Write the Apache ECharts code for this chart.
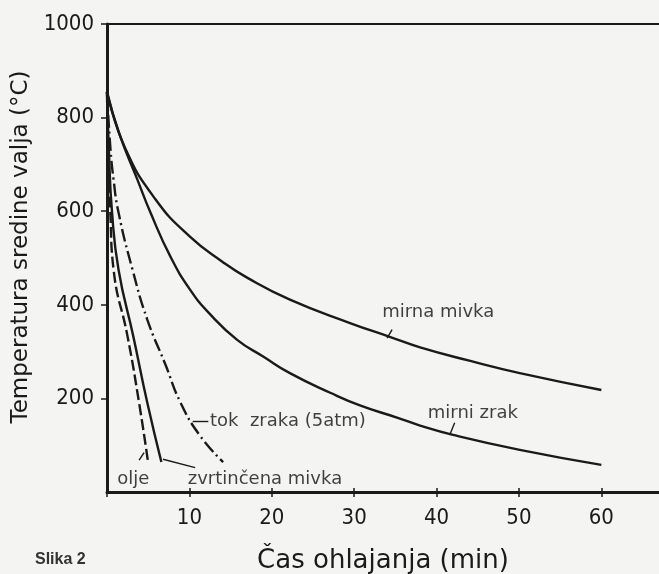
<!DOCTYPE html>
<html><head><meta charset="utf-8">
<script src="https://cdn.jsdelivr.net/npm/echarts@6/dist/echarts.min.js"></script>
<style>html,body{margin:0;padding:0;background:#f4f4f2;}#c{width:659px;height:574px;}</style>
</head><body><div id="c"></div>
<script>
// Cooling curves: [time (min), temperature (°C)]
const oljeData = [[0,855],[0.15,720],[0.4,600],[0.8,475],[2.5,332],[3.9,190],[5.0,62]];
const zvrtincenaData = [[0,855],[0.25,720],[0.6,600],[1.4,475],[3.2,332],[4.9,190],[6.6,64]];
const tokZrakaData = [[0,855],[0.4,738],[0.8,667],[1.4,597],[3.1,475],[4.9,368],[7.1,272],[8.9,192],[11.3,120],[14.1,64]];
const mirniZrakData = [[0,855],[1.5,765],[3.7,667],[5.3,596],[7.7,503],[10.1,432],[12.5,380],[15.8,325],[19,289],[22.2,254],[27.1,212],[30.7,185],[35.2,159],[38,142],[42,122],[50.1,90],[60,58]];
const mirnaMivkaData = [[0,855],[2.2,735],[5.9,625],[10.1,545],[14,492],[17,458],[22.2,411],[29.5,361],[34.4,331],[38,309],[44.1,280],[50.1,254],[60,218]];
const xTickLabels = [10,20,30,40,50,60];
const yTickLabels = [200,400,600,800,1000];

const INK = '#1a1a1a';
const condensed = '"DejaVu Sans Condensed","DejaVu Sans",sans-serif';
const sans = '"DejaVu Sans",sans-serif';

const chart = echarts.init(document.getElementById('c'), null, {renderer:'canvas'});

function curve(name, data, type){
  return {
    name, type:'line', data, showSymbol:false, symbol:'none',
    smooth:0.5, silent:true, z:3,
    lineStyle:{color:INK, width:2.4, type:type||'solid'}
  };
}

const labelItems = [
  {name:'mirna mivka', value:[40.2,383], align:'center'},
  {name:'mirni zrak', value:[44.4,169], align:'center'},
  {name:'tok  zraka (5atm)', value:[12.5,152], align:'left'},
  {name:'olje', value:[3.2,28], align:'center'},
  {name:'zvrtinčena mivka', value:[9.8,28], align:'left'}
];
const pointers = [
  [[34.6,347],[34.0,329]],
  [[42.2,148],[41.6,122]],
  [[10.4,151],[12.3,151]],
  [[3.9,68],[4.5,84]],
  [[6.8,70],[10.7,52]]
];
const xTickPos = [0].concat(xTickLabels);

chart.setOption({
  backgroundColor:'#f4f4f2',
  animation:false,
  title:{text:'Slika 2', left:30, top:547, textStyle:{fontFamily:'"Liberation Sans",Arial,sans-serif', fontWeight:'bold', fontSize:16, color:'#333'}},
  grid:{left:107, right:0, top:24, bottom:82, outerBoundsMode:'none', containLabel:false},
  xAxis:[
    {type:'value', min:0, max:67, interval:10, position:'bottom',
     name:'Čas ohlajanja (min)', nameLocation:'middle', nameGap:56,
     nameTextStyle:{fontFamily:sans, fontSize:26, color:INK},
     axisLine:{show:true, onZero:false, lineStyle:{color:INK, width:3}},
     axisTick:{show:true, length:5, customValues:xTickPos, lineStyle:{color:INK, width:1.5}},
     axisLabel:{color:INK, fontFamily:condensed, fontSize:22, margin:15, customValues:xTickLabels,
       formatter:v => String(v)},
     splitLine:{show:false}},
    {type:'value', min:0, max:67, interval:10, position:'bottom',
     axisLine:{show:false, onZero:false},
     axisTick:{show:true, inside:true, length:4, customValues:xTickLabels, lineStyle:{color:INK, width:1.5}},
     axisLabel:{show:false}, splitLine:{show:false}},
    {type:'value', min:0, max:67, position:'top',
     axisLine:{show:true, onZero:false, lineStyle:{color:INK, width:2}},
     axisTick:{show:false}, axisLabel:{show:false}, splitLine:{show:false}}
  ],
  yAxis:{type:'value', min:0, max:1000, interval:200,
    name:'Temperatura sredine valja (°C)', nameLocation:'middle', nameGap:57,
    nameTextStyle:{fontFamily:sans, fontSize:23, color:INK, padding:[0,0,0,22]},
    axisLine:{show:true, lineStyle:{color:INK, width:3}},
    axisTick:{show:true, length:6, customValues:yTickLabels, lineStyle:{color:INK, width:1.5}},
    axisLabel:{color:INK, fontFamily:condensed, fontSize:22, margin:13, customValues:yTickLabels,
      formatter:v => String(v)},
    splitLine:{show:false}},
  series:[
    curve('olje', oljeData, [11,4]),
    curve('zvrtinčena mivka', zvrtincenaData),
    curve('tok zraka (5atm)', tokZrakaData, [13,4,2,4]),
    curve('mirni zrak', mirniZrakData),
    curve('mirna mivka', mirnaMivkaData),
    {type:'scatter', silent:true, symbolSize:0, z:5,
     data:labelItems.map(d => ({name:d.name, value:d.value,
       label:{show:true, formatter:'{b}', position:d.align==='left'?'right':'inside', distance:0,
         color:'#111', fontFamily:sans, fontSize:18}})),
     markLine:{silent:true, symbol:'none', label:{show:false},
       lineStyle:{color:INK, width:1.4, type:'solid'},
       data:pointers.map(p => [{coord:p[0]},{coord:p[1]}])}
    }
  ]
});
</script></body></html>
